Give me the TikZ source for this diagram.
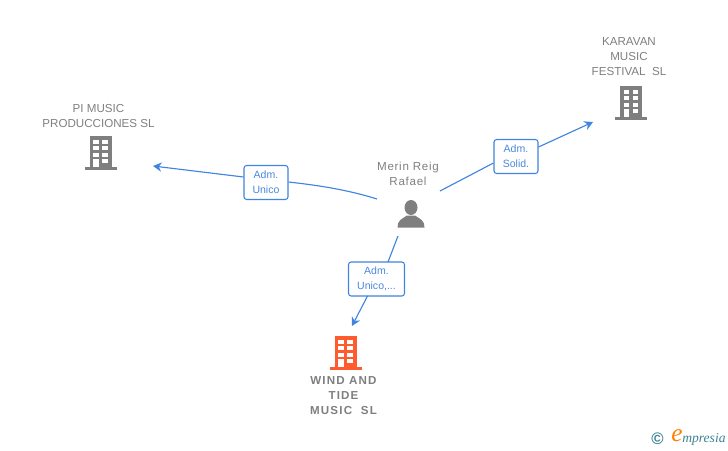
\documentclass[tikz,border=0pt]{standalone}
\usepackage{fontspec}
\setmainfont{Liberation Sans}
\newfontfamily\logofont{Liberation Serif}
\newfontfamily\widefont[LetterSpace=6]{Liberation Sans}
\newfontfamily\widebold[LetterSpace=10]{Liberation Sans Bold}
\usetikzlibrary{arrows.meta}
\definecolor{cLine}{HTML}{3F84E0}
\definecolor{cLabel}{HTML}{4A88DC}
\definecolor{cGrey}{HTML}{7F7F7F}
\definecolor{cFirm}{HTML}{FF5B2E}
\definecolor{cLogo}{HTML}{3F8296}
\tikzset{
    caption/.style={text=cGrey, align=center, inner sep=0pt, font=\fontsize{8.7}{11.25}\selectfont},
    role/.style={draw=cLine, fill=white, rounded corners=2pt, line width=0.8pt, text=cLabel, align=center,
        inner sep=0pt, minimum height=25.5pt, font=\fontsize{7.9}{11.25}\selectfont},
    link/.style={draw=cLine, line width=0.85pt},
    linktip/.style={-{Stealth[length=6.5pt,width=7pt,inset=2.2pt]}},
    building/.pic={
        \fill (-11, 0) rectangle (11, -31);
        \fill (-16, 0) rectangle (16, 3);
        \foreach \cRow in {-27.5, -21, -14.5}{
            \fill[white] (-7.3, \cRow) rectangle (-1.8, \cRow+4);
            \fill[white] (1.8, \cRow) rectangle (7.3, \cRow+4);
        }
        \fill[white] (-7.3, -8) rectangle (-1.8, 0);
        \fill[white] (1.8, -8) rectangle (7.3, -4);
    },
    person/.pic={
        \fill (0, -20) ellipse (6.5 and 7.5);
        \fill (-13.5, 0) .. controls (-13.5, -7) and (-10, -8) .. (-4, -12) -- (4, -12)
            .. controls (10, -8) and (13.5, -7) .. (13.5, 0) -- cycle;
    }
}
\begin{document}
\begin{tikzpicture}[x=0.75pt, y=-0.75pt]
    \useasboundingbox (0, 0) rectangle (728, 450);
    % firms and person
    \path[fill=cGrey] (631, 117) pic {building};
    \path[fill=cGrey] (100.5, 167) pic {building};
    \path[fill=cFirm] (345.5, 367) pic {building};
    \path[fill=cGrey] (411, 227.5) pic {person};
    \node[caption] (karavan) at (629, 56.5) {KARAVAN\\MUSIC\\FESTIVAL\ \ SL};
    \node[caption] (pimusic) at (98.5, 116) {PI MUSIC\\PRODUCCIONES SL};
    \node[caption, font=\fontsize{8.7}{11.25}\widebold] (wind) at (343.5, 396) {WIND AND\\TIDE\\MUSIC\ \ SL};
    \node[caption, font=\fontsize{8.7}{11.25}\widefont] (merin) at (408, 173.5) {Merin Reig\\Rafael};
    % roles
    \node[role, minimum width=33pt] (unico) at (266, 182.5) {Adm.\\Unico};
    \node[role, minimum width=33pt] (solid) at (516, 156.5) {Adm.\\Solid.};
    \node[role, minimum width=42pt] (unicos) at (376.5, 279) {Adm.\\Unico,...};
    % free ends
    \coordinate (fromLeft) at (377, 199);
    \coordinate (fromRight) at (440, 191);
    \coordinate (fromDown) at (398, 236);
    \coordinate (toLeft) at (153, 166);
    \coordinate (toRight) at (593, 122);
    \coordinate (toDown) at (352, 326);
    \coordinate (inDown) at (388, 262);
    \coordinate (outDown) at (367.5, 296);
    % connectors
    \draw[link] (fromLeft) .. controls (345, 189) and (315, 185) .. (unico.east |- 0, 182);
    \draw[link, linktip] (unico.west |- 0, 177) -- (toLeft);
    \draw[link] (fromRight) -- (solid.west |- 0, 163);
    \draw[link, linktip] (solid.east |- 0, 147) -- (toRight);
    \draw[link] (fromDown) -- (inDown);
    \draw[link, linktip] (outDown) -- (toDown);
    % logo
    \node[text=cLogo, inner sep=0pt, font=\fontsize{12.5}{13}\selectfont\bfseries] (copy) at (657.5, 439) {©};
    \node[text=orange, inner sep=0pt, font=\logofont\itshape\fontsize{19}{19}\selectfont] (logoe) at (677, 436) {e};
    \node[text=cLogo, inner sep=0pt, anchor=base west, font=\logofont\itshape\fontsize{10.2}{10}\selectfont] (logo) at (682, 442) {mpresia};
\end{tikzpicture}
\end{document}
